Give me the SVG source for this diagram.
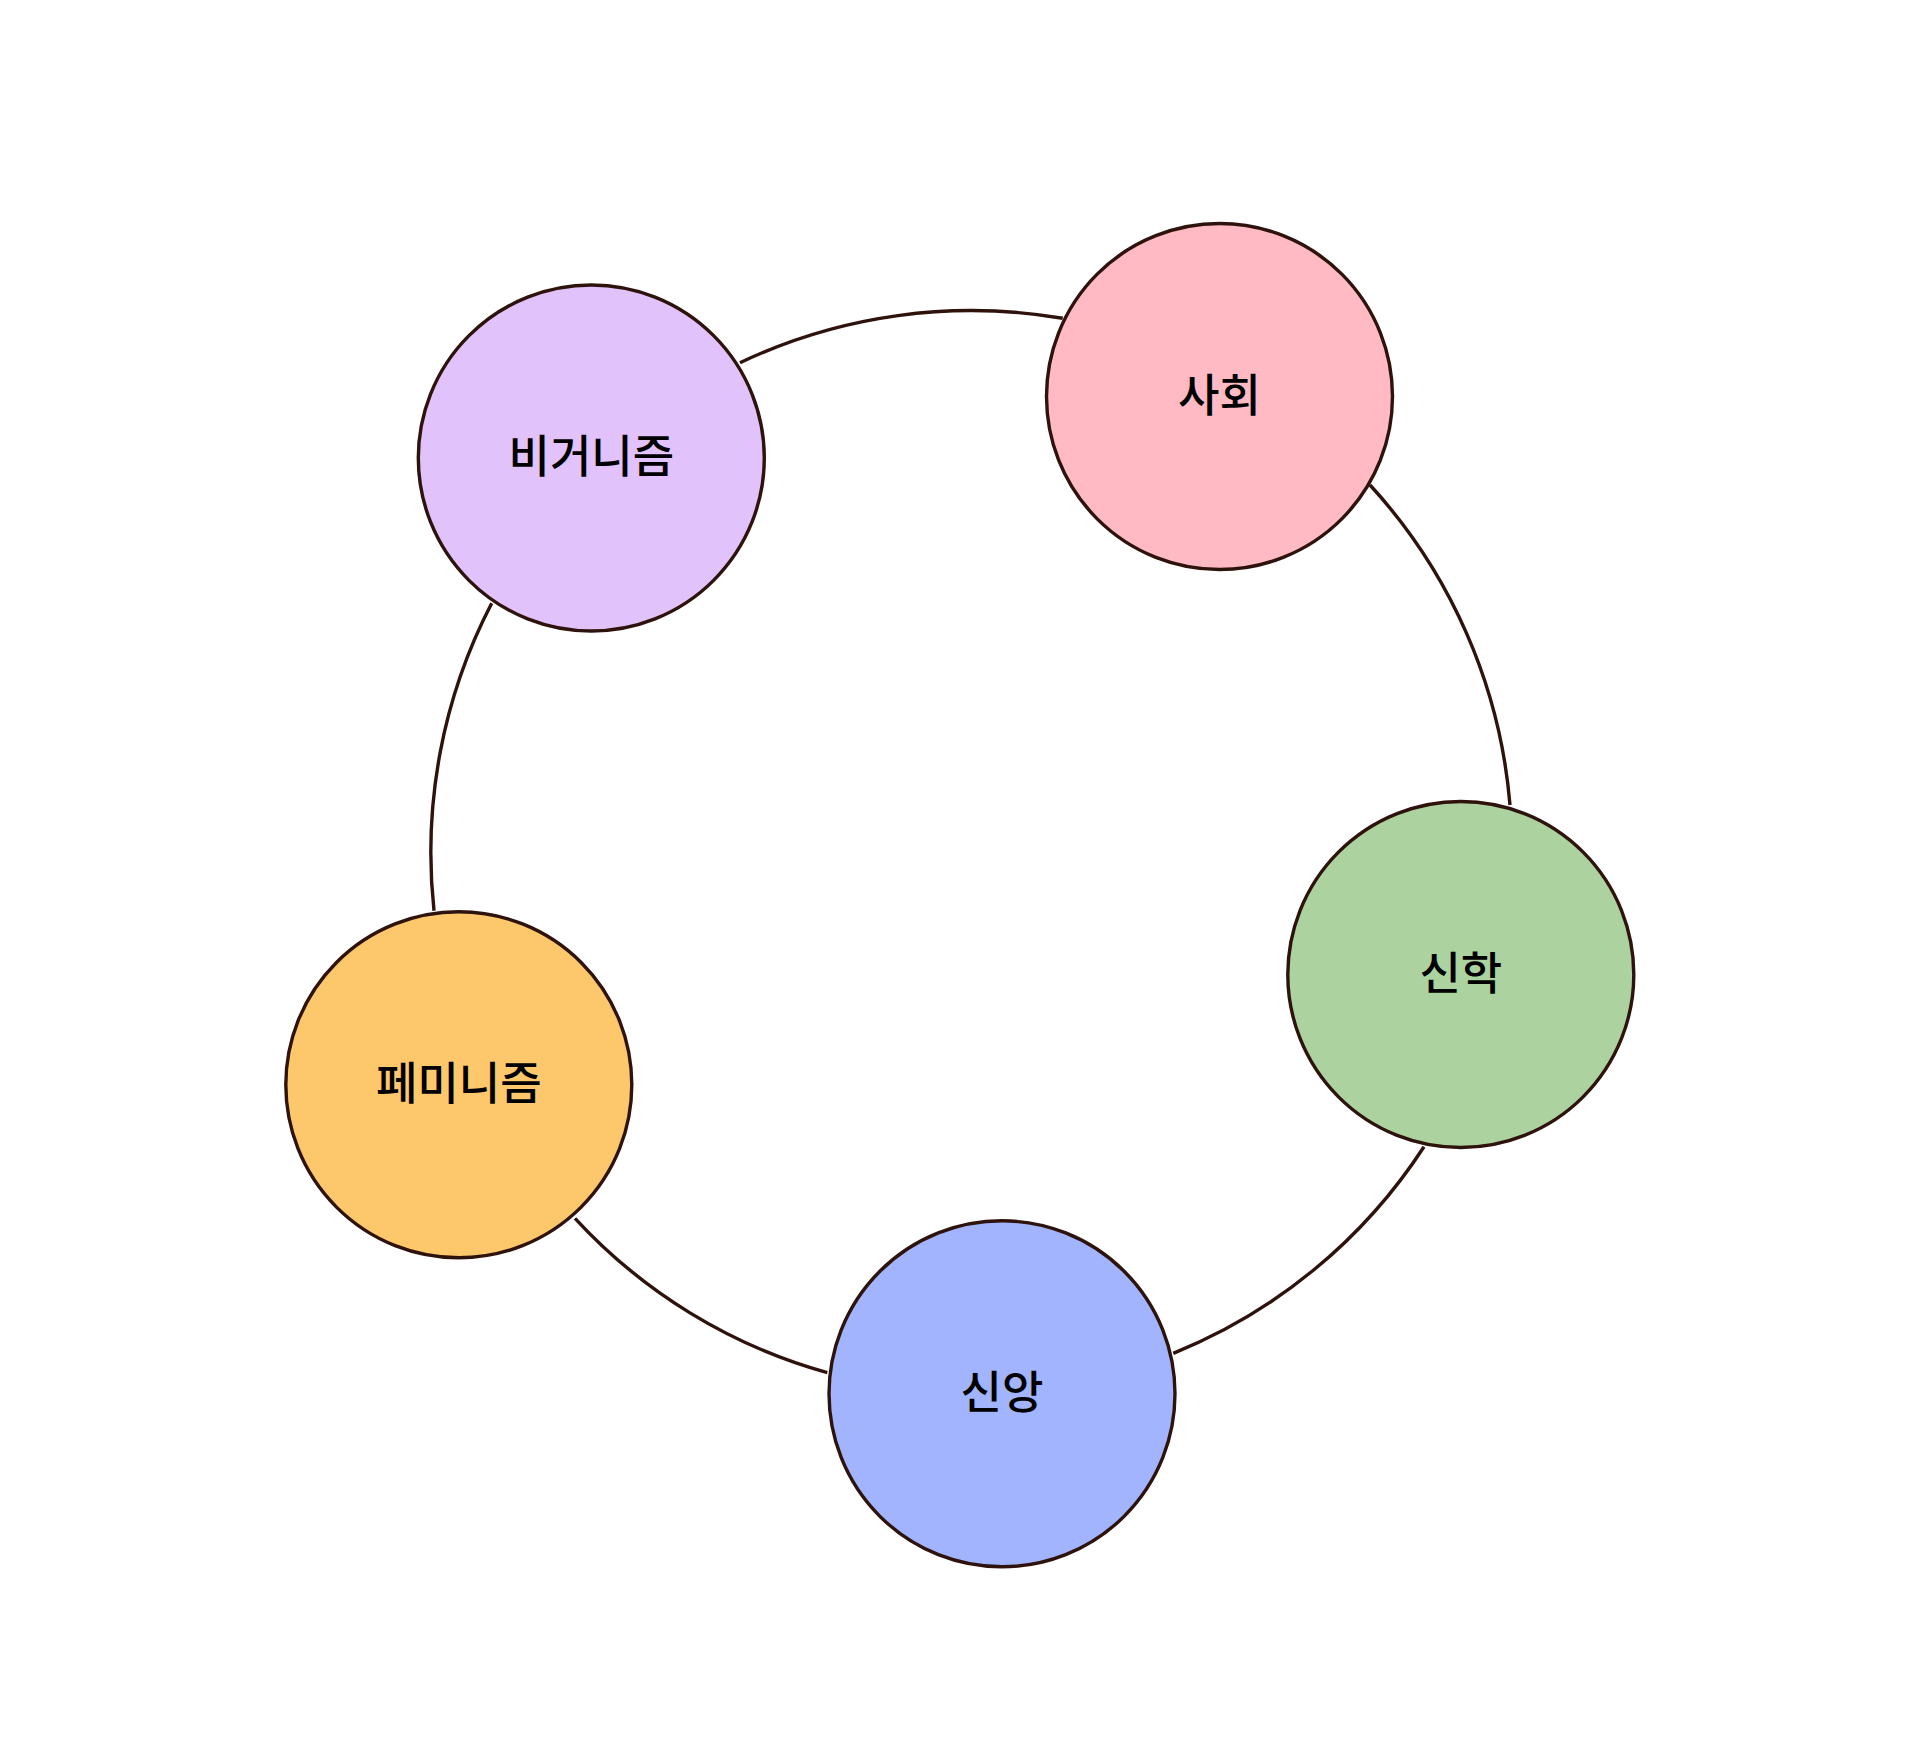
<svg xmlns="http://www.w3.org/2000/svg" width="1920" height="1745" viewBox="0 0 1920 1745">
<style>
.edge{fill:none;stroke:#2E120C;stroke-width:3.4}
.node{stroke:#2E120C;stroke-width:3.4}
.label{font-family:"Noto Sans CJK KR","Noto Sans",sans-serif;font-size:45px;font-weight:500;fill:#000;text-anchor:middle;dominant-baseline:central}
</style>
<rect width="1920" height="1745" fill="#fff"/>
<g id="connectors">
<path class="edge" d="M740,362.7 A540,540 0 0 1 1062.7,318.3"/>
<path class="edge" d="M1370,485 A540,540 0 0 1 1510,805"/>
<path class="edge" d="M1424,1146.7 A540,540 0 0 1 1173.3,1353.3"/>
<path class="edge" d="M827.3,1372.7 A540,540 0 0 1 575,1218.3"/>
<path class="edge" d="M434,910.7 A540,540 0 0 1 491.7,603.3"/>
</g>
<g id="node-society">
<circle class="node" cx="1219.5" cy="396.5" r="173" fill="#FFBAC4"/>
<text class="label" x="1219.5" y="392">사회</text>
</g>
<g id="node-veganism">
<circle class="node" cx="591.3" cy="458" r="173" fill="#E2C2FA"/>
<text class="label" x="591.3" y="453.5">비거니즘</text>
</g>
<g id="node-theology">
<circle class="node" cx="1460.8" cy="974.5" r="173" fill="#ACD29F"/>
<text class="label" x="1460.8" y="970">신학</text>
</g>
<g id="node-faith">
<circle class="node" cx="1002" cy="1393.8" r="173" fill="#A1B4FD"/>
<text class="label" x="1002" y="1389.3">신앙</text>
</g>
<g id="node-feminism">
<circle class="node" cx="458.8" cy="1084.8" r="173" fill="#FDC86B"/>
<text class="label" x="458.8" y="1080.3">페미니즘</text>
</g>
</svg>
